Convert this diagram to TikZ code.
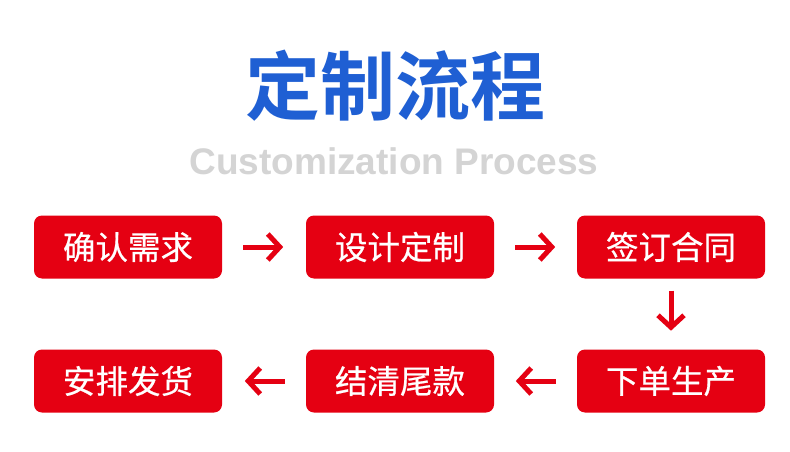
\documentclass[tikz,border=0pt]{standalone}
\usepackage{fontspec}
\usetikzlibrary{arrows.meta}
\newfontfamily\cjk[FakeBold=0.6]{Noto Sans CJK SC}
\newfontfamily\cjkb{Noto Sans CJK SC Bold}
\newfontfamily\enb{Liberation Sans Bold}
\definecolor{ttlblue}{HTML}{1F5FD3}
\definecolor{boxred}{HTML}{E50012}
\definecolor{subgray}{HTML}{D4D4D4}
\begin{document}
\begin{tikzpicture}[x=1pt,y=-1pt,
  stepbox/.style={fill=boxred,rounded corners=8pt,minimum width=188pt,minimum height=63pt,inner sep=0pt,text=white,font=\cjk\fontsize{32.5}{32.5}\selectfont},
  flow/.style={draw=boxred,line width=5pt,-{Straight Barb[length=12pt,width=26pt,line width=5pt]}}]
\useasboundingbox[fill=white] (0,0) rectangle (790,452);
\node[text=ttlblue,font=\cjkb\fontsize{75}{75}\selectfont] (title) at (395,86) {定制流程};
\node[text=subgray,font=\enb\fontsize{37}{37}\selectfont] (sub) at (394,161) {Customization Process};
\node[stepbox] (s1) at (128,247) {确认需求};
\node[stepbox] (s2) at (400,247) {设计定制};
\node[stepbox] (s3) at (671,247) {签订合同};
\node[stepbox] (s4) at (671,381) {下单生产};
\node[stepbox] (s5) at (400,381) {结清尾款};
\node[stepbox] (s6) at (128,381) {安排发货};
\draw[flow] ([xshift=21pt]s1.east) -- ([xshift=61pt]s1.east);
\draw[flow] ([xshift=21pt]s2.east) -- ([xshift=61pt]s2.east);
\draw[flow] ([yshift=-12pt]s3.south) -- ([yshift=-52pt]s3.south);
\draw[flow] ([xshift=-21pt]s4.west) -- ([xshift=-61pt]s4.west);
\draw[flow] ([xshift=-21pt]s5.west) -- ([xshift=-61pt]s5.west);
\end{tikzpicture}
\end{document}
